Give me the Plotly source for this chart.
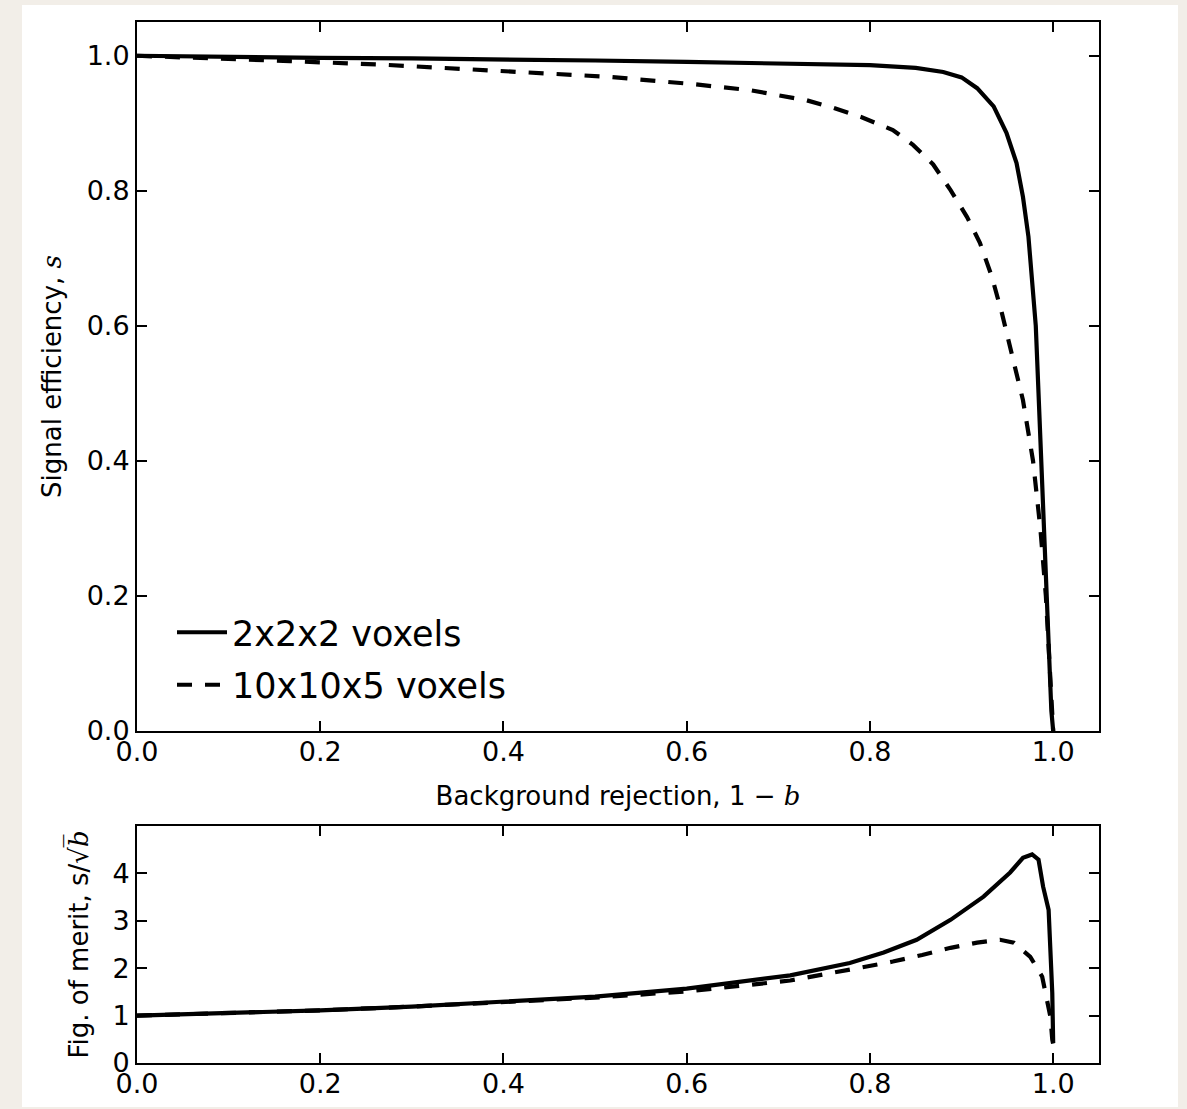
import plotly.graph_objects as go

# ---- Data ----
# Top panel: signal efficiency s vs background rejection 1-b
rej_2x2x2 = [0.0, 0.1, 0.2, 0.3, 0.4, 0.5, 0.6, 0.7, 0.8, 0.85, 0.88, 0.9, 0.917, 0.935,
             0.949, 0.96, 0.967, 0.973, 0.978, 0.981, 0.984, 0.987, 0.990, 0.992, 0.995, 0.998, 1.0]
eff_2x2x2 = [1.000, 0.998, 0.997, 0.996, 0.995, 0.993, 0.991, 0.989, 0.986, 0.982, 0.976, 0.968, 0.952, 0.925,
             0.886, 0.841, 0.791, 0.732, 0.658, 0.60, 0.50, 0.40, 0.30, 0.20, 0.10, 0.03, 0.0]

rej_10x10x5 = [0.0, 0.1, 0.167, 0.265, 0.385, 0.513, 0.607, 0.669, 0.731, 0.76, 0.791, 0.825, 0.847,
               0.869, 0.888, 0.906, 0.92, 0.933, 0.944, 0.955, 0.967, 0.978, 0.986, 0.992, 0.996, 0.999, 1.0]
eff_10x10x5 = [1.000, 0.996, 0.992, 0.987, 0.979, 0.969, 0.958, 0.949, 0.934, 0.923, 0.909, 0.890, 0.868,
               0.839, 0.801, 0.761, 0.723, 0.673, 0.619, 0.56, 0.49, 0.40, 0.30, 0.20, 0.10, 0.03, 0.0]

# Bottom panel: figure of merit s/sqrt(b)
fom_x_2x2x2 = [0.0, 0.1, 0.2, 0.3, 0.4, 0.5, 0.6, 0.713, 0.778, 0.815, 0.851, 0.888, 0.924, 0.953,
               0.967, 0.977, 0.984, 0.989, 0.995, 0.997, 0.999, 1.0]
fom_2x2x2 = [1.00, 1.05, 1.11, 1.19, 1.29, 1.40, 1.57, 1.85, 2.11, 2.33, 2.60, 3.02, 3.51, 4.02,
             4.33, 4.40, 4.29, 3.72, 3.23, 2.54, 1.48, 0.42]

fom_x_10x10x5 = [0.0, 0.1, 0.2, 0.3, 0.4, 0.5, 0.6, 0.713, 0.789, 0.825, 0.857, 0.888, 0.917, 0.942,
                 0.957, 0.975, 0.988, 0.993, 0.997, 0.999, 1.0]
fom_10x10x5 = [1.00, 1.05, 1.11, 1.19, 1.28, 1.38, 1.51, 1.74, 2.01, 2.14, 2.28, 2.43, 2.54, 2.60,
               2.54, 2.24, 1.82, 1.40, 0.97, 0.49, 0.40]

series_names = ["2x2x2 voxels", "10x10x5 voxels"]
x_ticks = [0.0, 0.2, 0.4, 0.6, 0.8, 1.0]
y_ticks_top = [0.0, 0.2, 0.4, 0.6, 0.8, 1.0]
y_ticks_bottom = [0, 1, 2, 3, 4]

# ---- Figure ----
W, H = 1187, 1109
FONT = "DejaVu Sans"
TICK_SIZE = 27
DASH = "15px,13px"
LW = 4.2

def px_x(p):
    return p / W

def px_y(p):
    return (H - p) / H

fig = go.Figure()

fig.add_trace(go.Scatter(x=rej_2x2x2, y=eff_2x2x2, mode="lines", name=series_names[0],
                         line=dict(color="black", width=LW), legendgroup="a",
                         xaxis="x", yaxis="y"))
fig.add_trace(go.Scatter(x=rej_10x10x5, y=eff_10x10x5, mode="lines", name=series_names[1],
                         line=dict(color="black", width=LW, dash=DASH), legendgroup="b",
                         xaxis="x", yaxis="y"))
fig.add_trace(go.Scatter(x=fom_x_2x2x2, y=fom_2x2x2, mode="lines", showlegend=False,
                         line=dict(color="black", width=LW), xaxis="x2", yaxis="y2"))
fig.add_trace(go.Scatter(x=fom_x_10x10x5, y=fom_10x10x5, mode="lines", showlegend=False,
                         line=dict(color="black", width=LW, dash=DASH), xaxis="x2", yaxis="y2"))

axis_common = dict(showline=True, linecolor="black", linewidth=2, mirror="ticks",
                   ticks="inside", ticklen=10, tickwidth=1.5, tickcolor="black",
                   showgrid=False, zeroline=False, automargin=False,
                   tickfont=dict(family=FONT, size=TICK_SIZE, color="black"))

xdom = [px_x(137), px_x(1099)]
serif_math = "<span style=\"font-family:'DejaVu Serif'\"><i>{}</i></span>"

fig.update_layout(
    width=W, height=H,
    margin=dict(l=0, r=0, t=0, b=0),
    paper_bgcolor="#f2eee8",
    plot_bgcolor="white",
    font=dict(family=FONT, color="black", size=TICK_SIZE),
    xaxis=dict(axis_common, domain=xdom, range=[0, 1.05], tickvals=x_ticks,
               tickformat=".1f", anchor="y", ticklabelstandoff=-4,
               title=dict(text="Background rejection, 1 − " + serif_math.format("b"),
                          font=dict(family=FONT, size=26), standoff=20)),
    yaxis=dict(axis_common, domain=[px_y(731), px_y(22)], range=[0, 1.05],
               tickvals=y_ticks_top, tickformat=".1f", anchor="x",
               title=dict(text="Signal efficiency, " + serif_math.format("s"),
                          font=dict(family=FONT, size=26), standoff=18)),
    xaxis2=dict(axis_common, domain=xdom, range=[0, 1.05], tickvals=x_ticks,
                tickformat=".1f", anchor="y2", ticklabelstandoff=-4),
    yaxis2=dict(axis_common, domain=[px_y(1063), px_y(826)], range=[0, 5],
                tickvals=y_ticks_bottom, tickformat="d", anchor="x2",
                title=dict(text="Fig. of merit, s/√" + serif_math.format("b\u0305"),
                           font=dict(family=FONT, size=26), standoff=16)),
    showlegend=True,
    legend=dict(x=px_x(172), y=px_y(603), xanchor="left", yanchor="top",
                bgcolor="rgba(0,0,0,0)", borderwidth=0,
                font=dict(family=FONT, size=35, color="black"),
                tracegroupgap=4, itemwidth=50),
    shapes=[dict(type="rect", xref="paper", yref="paper",
                 x0=px_x(22), x1=px_x(1178), y0=px_y(1107), y1=px_y(5),
                 fillcolor="white", line=dict(width=0), layer="below")],
)

fig.write_html("out.html")
